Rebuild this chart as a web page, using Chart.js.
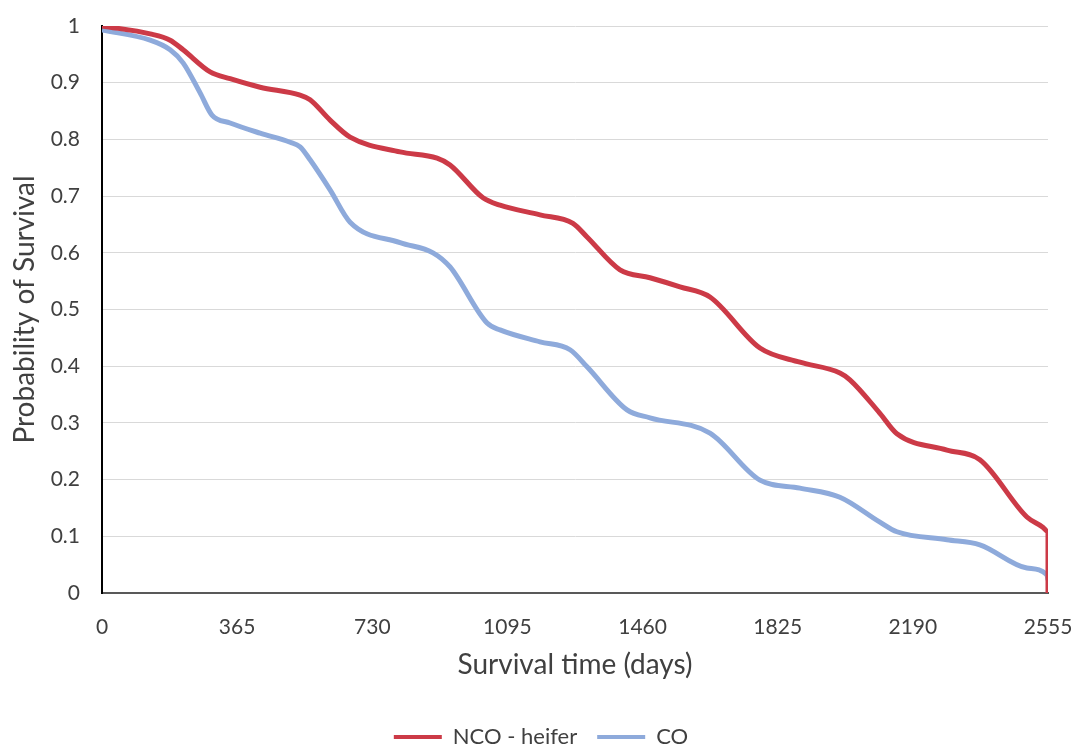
<!DOCTYPE html>
<html>
<head>
<meta charset="utf-8">
<script src="https://cdn.jsdelivr.net/npm/chart.js"></script>
<style>
  html, body { margin: 0; padding: 0; background: #fff; }
  #wrap { width: 1077px; height: 747px; }
</style>
</head>
<body>
<div id="wrap"><canvas id="survival" width="1077" height="747"></canvas></div>
<script>
// Kaplan-Meier style survival curves, days on x
const ncoDays = [0, 130, 184, 219, 292, 346, 427, 535, 562, 616, 670, 805, 905, 940, 1029, 1075, 1183, 1272, 1310, 1399, 1480, 1561, 1642, 1777, 1885, 1993, 2020, 2101, 2147, 2282, 2371, 2498, 2541, 2555, 2555];
const ncoSurv = [1.0, 0.986, 0.975, 0.958, 0.919, 0.907, 0.892, 0.878, 0.870, 0.834, 0.804, 0.778, 0.767, 0.755, 0.697, 0.684, 0.667, 0.652, 0.628, 0.570, 0.556, 0.540, 0.522, 0.432, 0.407, 0.388, 0.376, 0.317, 0.281, 0.252, 0.235, 0.134, 0.116, 0.108, 0.0];

const coDays = [0, 130, 184, 219, 265, 297, 346, 427, 508, 535, 562, 616, 670, 805, 894, 940, 1040, 1075, 1183, 1264, 1310, 1418, 1480, 1642, 1777, 1885, 1993, 2101, 2147, 2282, 2371, 2498, 2552, 2555];
const coSurv = [0.993, 0.975, 0.958, 0.935, 0.882, 0.843, 0.829, 0.811, 0.795, 0.787, 0.764, 0.711, 0.654, 0.618, 0.600, 0.575, 0.476, 0.464, 0.443, 0.429, 0.399, 0.323, 0.309, 0.282, 0.199, 0.185, 0.169, 0.125, 0.108, 0.094, 0.085, 0.044, 0.032, 0.023];

const xTicks = [0, 365, 730, 1095, 1460, 1825, 2190, 2555];

const seriesNames = ['NCO - heifer', 'CO'];
const seriesColors = ['#cc3a47', '#8eaadb'];

const FONT = 'Lato, "Open Sans", sans-serif';
const TEXT = '#404040';

// left layout padding only nudges the legend row; the y axis takes up the rest
const PAD_LEFT = 34;

function toPoints(xs, ys) {
    return xs.map((x, i) => ({ x: x, y: ys[i] }));
}

const ctx = document.getElementById('survival').getContext('2d');
new Chart(ctx, {
    type: 'line',
    data: {
        datasets: [{
            label: seriesNames[0],
            data: toPoints(ncoDays, ncoSurv),
            borderColor: seriesColors[0],
            backgroundColor: seriesColors[0],
            borderWidth: 5,
            pointRadius: 0,
            cubicInterpolationMode: 'monotone',
            fill: false
        }, {
            label: seriesNames[1],
            data: toPoints(coDays, coSurv),
            borderColor: seriesColors[1],
            backgroundColor: seriesColors[1],
            borderWidth: 5,
            pointRadius: 0,
            cubicInterpolationMode: 'monotone',
            fill: false
        }]
    },
    options: {
        responsive: false,
        animation: false,
        layout: {
            padding: { left: PAD_LEFT, right: 29, top: 26, bottom: -11 }
        },
        plugins: {
            tooltip: { enabled: false },
            legend: {
                position: 'bottom',
                labels: {
                    font: { family: FONT, size: 22 },
                    color: TEXT,
                    boxWidth: 48,
                    boxHeight: 4,
                    padding: 20,
                    generateLabels: function(chart) {
                        return chart.data.datasets.map((ds, i) => ({
                            text: ds.label,
                            fillStyle: ds.borderColor,
                            strokeStyle: ds.borderColor,
                            lineWidth: 0,
                            fontColor: TEXT,
                            datasetIndex: i,
                            hidden: false
                        }));
                    }
                }
            }
        },
        scales: {
            x: {
                type: 'linear',
                min: 0,
                max: 2555,
                afterBuildTicks: function(scale) {
                    scale.ticks = xTicks.map(v => ({ value: v }));
                },
                afterFit: function(scale) {
                    scale.height = 113;
                    scale.paddingLeft = 0;
                    scale.paddingRight = 0;
                },
                grid: { display: false, drawTicks: false },
                border: { display: true, color: '#595959', width: 2 },
                ticks: {
                    font: { family: FONT, size: 21 },
                    color: TEXT,
                    padding: 22,
                    maxRotation: 0,
                    autoSkip: false,
                    callback: v => String(v)
                },
                title: {
                    display: true,
                    text: 'Survival time (days)',
                    font: { family: FONT, size: 28 },
                    color: TEXT,
                    padding: { top: 0, bottom: 24 }
                }
            },
            y: {
                min: 0,
                max: 1,
                afterFit: function(scale) {
                    scale.width = 102 - PAD_LEFT;
                    scale.paddingTop = 0;
                    scale.paddingBottom = 0;
                },
                grid: { color: '#d9d9d9', lineWidth: 1, drawTicks: false },
                border: { display: true, color: '#000000', width: 2 },
                ticks: {
                    stepSize: 0.1,
                    font: { family: FONT, size: 21 },
                    color: TEXT,
                    padding: 22,
                    callback: v => Math.round(v * 10) / 10
                },
                title: {
                    display: true,
                    text: 'Probability of Survival',
                    font: { family: FONT, size: 28 },
                    color: TEXT,
                    padding: { top: 8 - PAD_LEFT, bottom: 0 }
                }
            }
        }
    }
});
</script>
</body>
</html>
